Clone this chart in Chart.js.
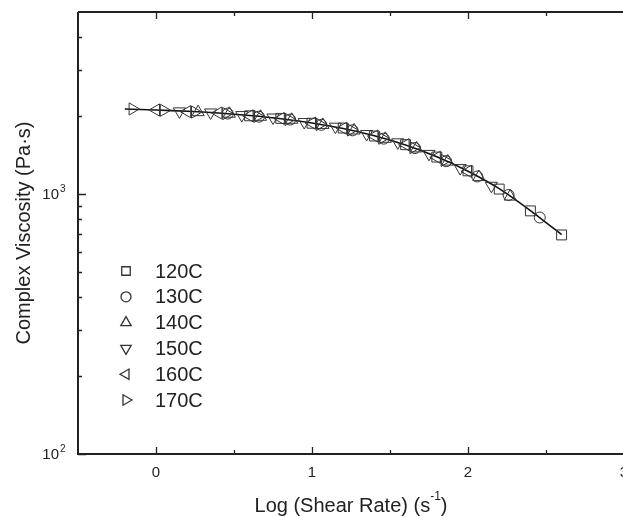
<!DOCTYPE html>
<html lang="en">
<head>
    <meta charset="UTF-8">
    <title>Complex Viscosity Master Curve</title>
    <script src="https://cdn.jsdelivr.net/npm/chart.js@4.4.1/dist/chart.umd.min.js"></script>
    <style>
        html, body {
            margin: 0;
            padding: 0;
            background: #fff;
            overflow: hidden;
        }
        .chart-box {
            position: relative;
            width: 640px;
            height: 517px;
        }
    </style>
</head>
<body>
    <div class="chart-box">
        <canvas id="chart"></canvas>
    </div>

    <script>
        // data: log shear rate vs complex viscosity (Pa·s)
        const rate120 = [0.6, 0.8, 1.0, 1.2, 1.4, 1.6, 1.8, 2.0, 2.2, 2.4, 2.6];
        const visc120 = [1995, 1950, 1868, 1790, 1668, 1545, 1385, 1226, 1043, 860, 695];

        const rate130 = [0.46, 0.66, 0.86, 1.06, 1.26, 1.46, 1.66, 1.86, 2.06, 2.26, 2.46];
        const visc130 = [2035, 1980, 1930, 1842, 1755, 1630, 1500, 1335, 1166, 990, 811];

        const rate140 = [0.27, 0.47, 0.67, 0.87, 1.07, 1.27, 1.47, 1.67, 1.87, 2.07, 2.27];
        const visc140 = [2060, 2032, 1978, 1926, 1840, 1752, 1628, 1495, 1330, 1160, 976];

        const rate150 = [0.15, 0.35, 0.55, 0.75, 0.95, 1.15, 1.35, 1.55, 1.75, 1.95, 2.15];
        const visc150 = [2075, 2055, 2008, 1965, 1888, 1812, 1698, 1578, 1424, 1256, 1074];

        const rate160 = [0.0, 0.2, 0.4, 0.6, 0.8, 1.0, 1.2, 1.4, 1.6, 1.8, 2.0];
        const visc160 = [2100, 2070, 2045, 1995, 1948, 1870, 1786, 1668, 1545, 1382, 1220];

        const rate170 = [-0.15, 0.05, 0.25, 0.45, 0.65, 0.85, 1.05, 1.25, 1.45, 1.65, 1.85];
        const visc170 = [2120, 2095, 2062, 2035, 1985, 1932, 1848, 1760, 1636, 1505, 1345];

        // fitted curve drawn through all temperatures
        const fitRate = [-0.2, 0, 0.2, 0.4, 0.6, 0.8, 1.0, 1.2, 1.4, 1.6, 1.8, 2.0, 2.2, 2.4, 2.6];
        const fitVisc = [2120, 2100, 2078, 2045, 2000, 1945, 1873, 1783, 1672, 1540, 1388, 1222, 1047, 862, 697];

        const seriesLabels = ['120C', '130C', '140C', '150C', '160C', '170C'];
        const xMajorTicks = [0, 1, 2, 3];
        const xMinorTicks = [0.5, 1.5, 2.5];
        const yMajorTicks = [100, 1000];
        const yMinorTicks = [200, 300, 400, 500, 600, 700, 800, 900, 2000, 3000, 4000];
        const yTickLabels = [['10', '2'], ['10', '3']];

        const FONT = "'Liberation Sans', Arial, Helvetica, sans-serif";
        const INK = '#222';
        const MARK = '#333';

        const markerStyles = [
            { pointStyle: 'rect', rotation: 0, radius: 7 },
            { pointStyle: 'circle', rotation: 0, radius: 5.5 },
            { pointStyle: 'triangle', rotation: 0, radius: 7 },
            { pointStyle: 'triangle', rotation: 180, radius: 7 },
            { pointStyle: 'triangle', rotation: 270, radius: 7 },
            { pointStyle: 'triangle', rotation: 90, radius: 7 }
        ];

        function toPoints(xs, ys) {
            return xs.map((x, i) => ({ x: x, y: ys[i] }));
        }

        const rates = [rate120, rate130, rate140, rate150, rate160, rate170];
        const viscs = [visc120, visc130, visc140, visc150, visc160, visc170];

        const datasets = seriesLabels.map((label, i) => ({
            label: label,
            data: toPoints(rates[i], viscs[i]),
            showLine: false,
            pointStyle: markerStyles[i].pointStyle,
            rotation: markerStyles[i].rotation,
            pointRadius: markerStyles[i].radius,
            pointBorderColor: MARK,
            pointBackgroundColor: 'rgba(0,0,0,0)',
            pointBorderWidth: 1
        }));

        datasets.push({
            label: 'fit',
            data: toPoints(fitRate, fitVisc),
            showLine: true,
            borderColor: '#111',
            borderWidth: 1.6,
            pointRadius: 0,
            tension: 0.2
        });

        // axes, ticks, labels and the in-plot legend
        const framePlugin = {
            id: 'frame',
            afterDraw(chart) {
                const ctx = chart.ctx;
                const area = chart.chartArea;
                const xs = chart.scales.x;
                const ys = chart.scales.y;
                ctx.save();

                ctx.strokeStyle = INK;
                ctx.lineWidth = 2;
                ctx.beginPath();
                ctx.moveTo(area.left, area.top);
                ctx.lineTo(area.left, area.bottom);
                ctx.lineTo(area.right, area.bottom);
                ctx.moveTo(area.left, area.top);
                ctx.lineTo(area.right, area.top);
                ctx.stroke();

                ctx.lineWidth = 1.3;
                ctx.beginPath();
                xMajorTicks.forEach(v => {
                    const px = Math.round(xs.getPixelForValue(v)) + 0.5;
                    ctx.moveTo(px, area.bottom); ctx.lineTo(px, area.bottom - 7);
                    ctx.moveTo(px, area.top); ctx.lineTo(px, area.top + 7);
                });
                xMinorTicks.forEach(v => {
                    const px = Math.round(xs.getPixelForValue(v)) + 0.5;
                    ctx.moveTo(px, area.bottom); ctx.lineTo(px, area.bottom - 4);
                    ctx.moveTo(px, area.top); ctx.lineTo(px, area.top + 4);
                });
                yMajorTicks.forEach(v => {
                    const py = Math.round(ys.getPixelForValue(v)) + 0.5;
                    ctx.moveTo(area.left, py); ctx.lineTo(area.left + 8, py);
                });
                yMinorTicks.forEach(v => {
                    const py = Math.round(ys.getPixelForValue(v)) + 0.5;
                    ctx.moveTo(area.left, py); ctx.lineTo(area.left + 4, py);
                });
                ctx.stroke();

                ctx.fillStyle = INK;
                ctx.textAlign = 'center';
                ctx.textBaseline = 'middle';
                ctx.font = '15px ' + FONT;
                xMajorTicks.forEach(v => {
                    ctx.fillText(String(v), xs.getPixelForValue(v), area.bottom + 19);
                });

                yMajorTicks.forEach((v, i) => {
                    const py = ys.getPixelForValue(v);
                    ctx.font = '15px ' + FONT;
                    ctx.textAlign = 'right';
                    ctx.fillText(yTickLabels[i][0], area.left - 19, py + 1);
                    ctx.font = '10px ' + FONT;
                    ctx.textAlign = 'left';
                    ctx.fillText(yTickLabels[i][1], area.left - 18, py - 5);
                });

                // x title with superscript, centred on the plot frame
                const mainX = 'Log (Shear Rate) (s';
                const supX = '-1';
                ctx.font = '20px ' + FONT;
                const w1 = ctx.measureText(mainX).width;
                const w3 = ctx.measureText(')').width;
                ctx.font = '12px ' + FONT;
                const w2 = ctx.measureText(supX).width;
                const cx = (area.left + area.right) / 2;
                let tx = cx - (w1 + w2 + w3) / 2;
                const ty = area.bottom + 52;
                ctx.textAlign = 'left';
                ctx.font = '20px ' + FONT;
                ctx.fillText(mainX, tx, ty);
                ctx.font = '12px ' + FONT;
                ctx.fillText(supX, tx + w1, ty - 9);
                ctx.font = '20px ' + FONT;
                ctx.fillText(')', tx + w1 + w2, ty);

                // y title
                ctx.save();
                ctx.translate(24, (area.top + area.bottom) / 2);
                ctx.rotate(-Math.PI / 2);
                ctx.textAlign = 'center';
                ctx.font = '20px ' + FONT;
                ctx.fillText('Complex Viscosity (Pa·s)', 0, 0);
                ctx.restore();

                // legend inside plot
                seriesLabels.forEach((label, i) => {
                    const ly = 271 + i * 25.8;
                    ctx.strokeStyle = MARK;
                    ctx.fillStyle = 'rgba(0,0,0,0)';
                    Chart.helpers.drawPoint(ctx, {
                        pointStyle: markerStyles[i].pointStyle,
                        rotation: markerStyles[i].rotation,
                        radius: markerStyles[i].pointStyle === 'circle' ? 5 : 6,
                        borderWidth: 1
                    }, 126, ly);
                    ctx.fillStyle = INK;
                    ctx.font = '20px ' + FONT;
                    ctx.textAlign = 'left';
                    ctx.fillText(label, 155, ly + 1);
                });

                ctx.restore();
            }
        };

        const ctx = document.getElementById('chart').getContext('2d');
        new Chart(ctx, {
            type: 'scatter',
            data: { datasets: datasets },
            options: {
                responsive: true,
                maintainAspectRatio: false,
                animation: false,
                layout: {
                    padding: { left: 78, top: 12, right: 16, bottom: 63 }
                },
                plugins: {
                    legend: { display: false },
                    tooltip: { enabled: false }
                },
                scales: {
                    x: { type: 'linear', min: -0.5, max: 3, display: false },
                    y: { type: 'logarithmic', min: 100, max: 5000, display: false }
                }
            },
            plugins: [framePlugin]
        });
    </script>
</body>
</html>
